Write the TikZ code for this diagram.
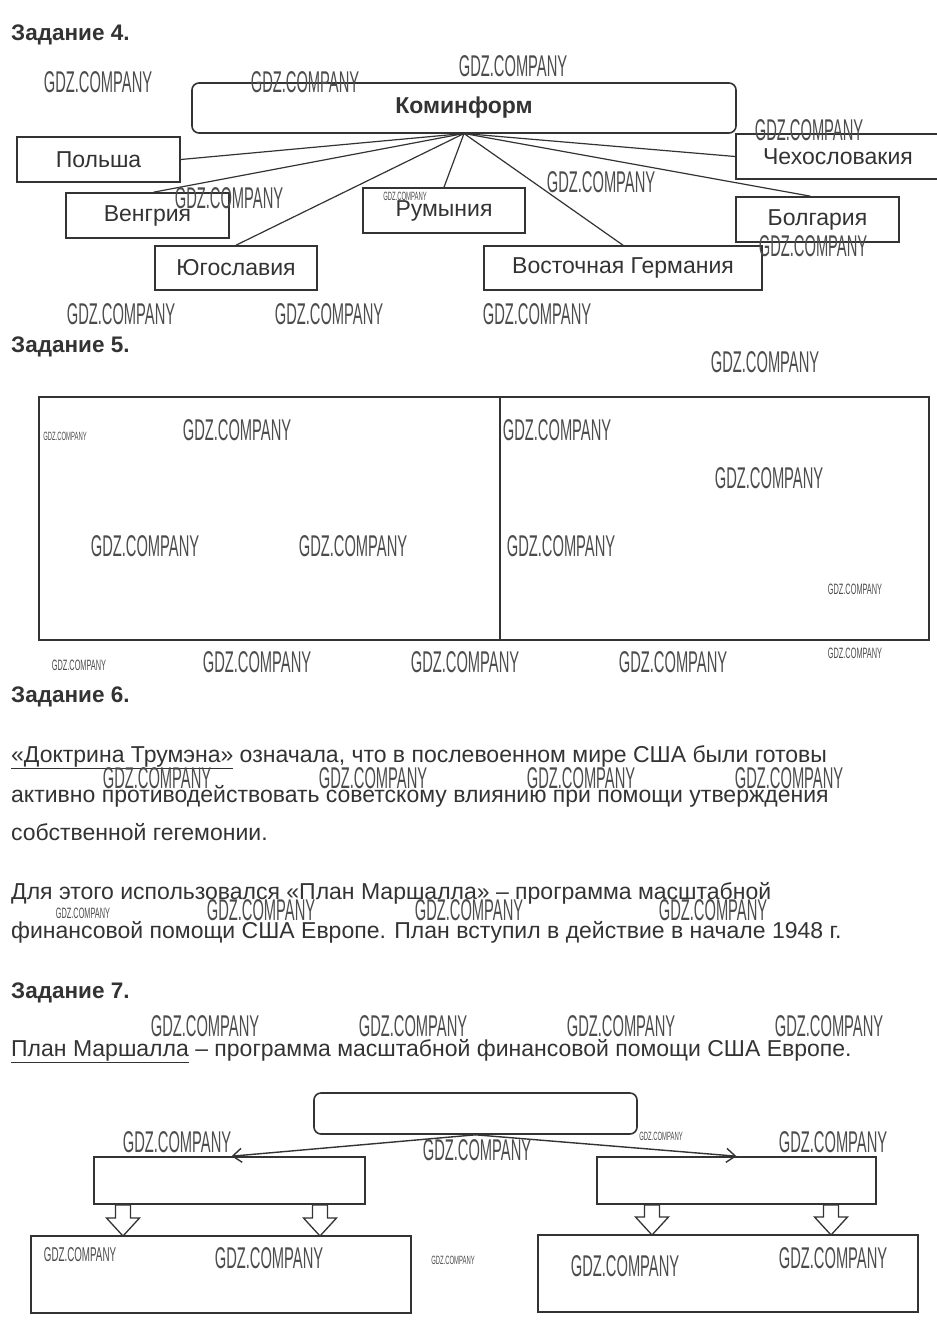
\documentclass[tikz,border=0pt]{standalone}
\usepackage{fontspec}
\setmainfont{Liberation Sans}
\newfontfamily\wmfont[FakeStretch=0.49]{Liberation Sans}
\usetikzlibrary{arrows.meta,calc}
\definecolor{ink}{HTML}{333333}
\tikzset{
  head/.style={anchor=base west, font=\bfseries\fontsize{22.5}{26}\selectfont, text=ink, inner sep=0},
  body/.style={anchor=base west, font=\fontsize{23}{27}\selectfont, text=ink, inner sep=0},
  box/.style={draw=ink, line width=1.6pt, inner sep=0, font=\fontsize{23}{27}\selectfont, text=ink},
  rbox/.style={box, rounded corners=7pt},
  conn/.style={draw=ink, line width=1.2pt},
  arr/.style={draw=ink, line width=1.4pt, -{Straight Barb[length=9pt,width=14pt,line width=1.4pt]}},
  hollow/.style={draw=ink, line width=1.3pt, fill=white},
  wmk/.style={inner sep=0, text=black!70},
}
\newcommand\wm[3]{\node[wmk, font=\wmfont\fontsize{#3}{#3}\selectfont] at (#1,#2) {GDZ.COMPANY};}
\newcommand\harrow[3]{% x, ytop, ybottom
  \path[hollow] (#1-7.5,#2) -- (#1+7.5,#2) -- (#1+7.5,#3-18) -- (#1+16.5,#3-18) -- (#1,#3) -- (#1-16.5,#3-18) -- (#1-7.5,#3-18) -- cycle;}
\begin{document}
\begin{tikzpicture}[x=1pt,y=-1pt]
\useasboundingbox[fill=white] (0,0) rectangle (937,1326);

% ---------- Task 4 ----------
\node[head] (h4) at (11,40) {Задание 4.};
\node[rbox, minimum width=544, minimum height=50] (kom) at (464,108) {\bfseries Коминформ};
\coordinate (hub) at (464,133.5);
\node[box, minimum width=163, minimum height=45] (pol) at (98.5,159.5) {Польша};
\node[box, minimum width=163, minimum height=45] (ven) at (147.5,215.5) {Венгрия};
\node[box, minimum width=162, minimum height=44] (yug) at (236,268) {Югославия};
\node[box, minimum width=162, minimum height=45] (rum) at (444,210.5) {Румыния};
\node[box, minimum width=278, minimum height=44] (vg) at (623,268) {Восточная Германия};
\node[box, minimum width=204, minimum height=45] (che) at (838,156.5) {Чехословакия};
\node[box, minimum width=163, minimum height=45] (bol) at (817.5,219.5) {Болгария};
\draw[conn] (hub) -- (pol.east);
\draw[conn] (hub) -- ($(ven.north)+(6,0)$);
\draw[conn] (hub) -- (yug.north);
\draw[conn] (hub) -- (rum.north);
\draw[conn] (hub) -- (vg.north);
\draw[conn] (hub) -- (che.west);
\draw[conn] (hub) -- ($(bol.north)+(-7,0)$);

% ---------- Task 5 ----------
\node[head] (h5) at (11,352) {Задание 5.};
\draw[draw=ink, line width=1.6pt] (39,397) rectangle (929,640);
\draw[draw=ink, line width=1.6pt] (500,397) -- (500,640);

% ---------- Task 6 ----------
\node[head] (h6) at (11,702) {Задание 6.};
\node[body] (t61) at (11,762) {\underline{«Доктрина Трумэна»} означала, что в послевоенном мире США были готовы};
\node[body] (t62) at (11,802) {активно противодействовать советскому влиянию при помощи утверждения};
\node[body] (t63) at (11,840) {собственной гегемонии.};
\node[body] (t64) at (11,899) {Для этого использовался «План Маршалла» – программа масштабной};
\node[body] (t65) at (11,938) {финансовой помощи США Европе. План вступил в действие в начале 1948 г.};

% ---------- Task 7 ----------
\node[head] (h7) at (11,998) {Задание 7.};
\node[body] (t71) at (11,1056) {\underline{План Маршалла} – программа масштабной финансовой помощи США Европе.};
\node[rbox, minimum width=323, minimum height=41] (top) at (475.5,1113.5) {};
\node[box, minimum width=271, minimum height=47] (lm) at (229.5,1180.5) {};
\node[box, minimum width=279, minimum height=47] (rm) at (736.5,1180.5) {};
\node[box, minimum width=380, minimum height=77] (lb) at (221,1274.5) {};
\node[box, minimum width=380, minimum height=77] (rb) at (728,1273.5) {};
\draw[arr] (top.south) -- ($(lm.north)+(2,0)$);
\draw[arr] (top.south) -- (rm.north);
\harrow{123}{1205}{1236}
\harrow{320}{1205}{1236}
\harrow{652}{1205}{1235}
\harrow{831}{1205}{1235}

% ---------- watermarks ----------
\wm{98}{82}{30}\wm{305}{82}{30}\wm{513}{66}{30}\wm{809}{130}{30}
\wm{229}{198}{30}\wm{601}{182}{30}\wm{813}{246}{30}
\wm{121}{314}{30}\wm{329}{314}{30}\wm{537}{314}{30}\wm{765}{362}{30}
\wm{237}{430}{30}\wm{557}{430}{30}\wm{769}{478}{30}
\wm{145}{546}{30}\wm{353}{546}{30}\wm{561}{546}{30}
\wm{257}{662}{30}\wm{465}{662}{30}\wm{673}{662}{30}
\wm{157}{778}{30}\wm{373}{778}{30}\wm{581}{778}{30}\wm{789}{778}{30}
\wm{261}{910}{30}\wm{469}{910}{30}\wm{713}{910}{30}
\wm{205}{1026}{30}\wm{413}{1026}{30}\wm{621}{1026}{30}\wm{829}{1026}{30}
\wm{177}{1142}{30}\wm{477}{1150}{30}\wm{833}{1142}{30}
\wm{269}{1258}{30}\wm{625}{1266}{30}\wm{833}{1258}{30}
\wm{405}{196}{12}\wm{65}{436}{12}\wm{661}{1136}{12}\wm{453}{1260}{12}
\wm{855}{589}{15}\wm{79}{665}{15}\wm{855}{653}{15}\wm{83}{913}{15}
\wm{80}{1255}{20}
\end{tikzpicture}
\end{document}
